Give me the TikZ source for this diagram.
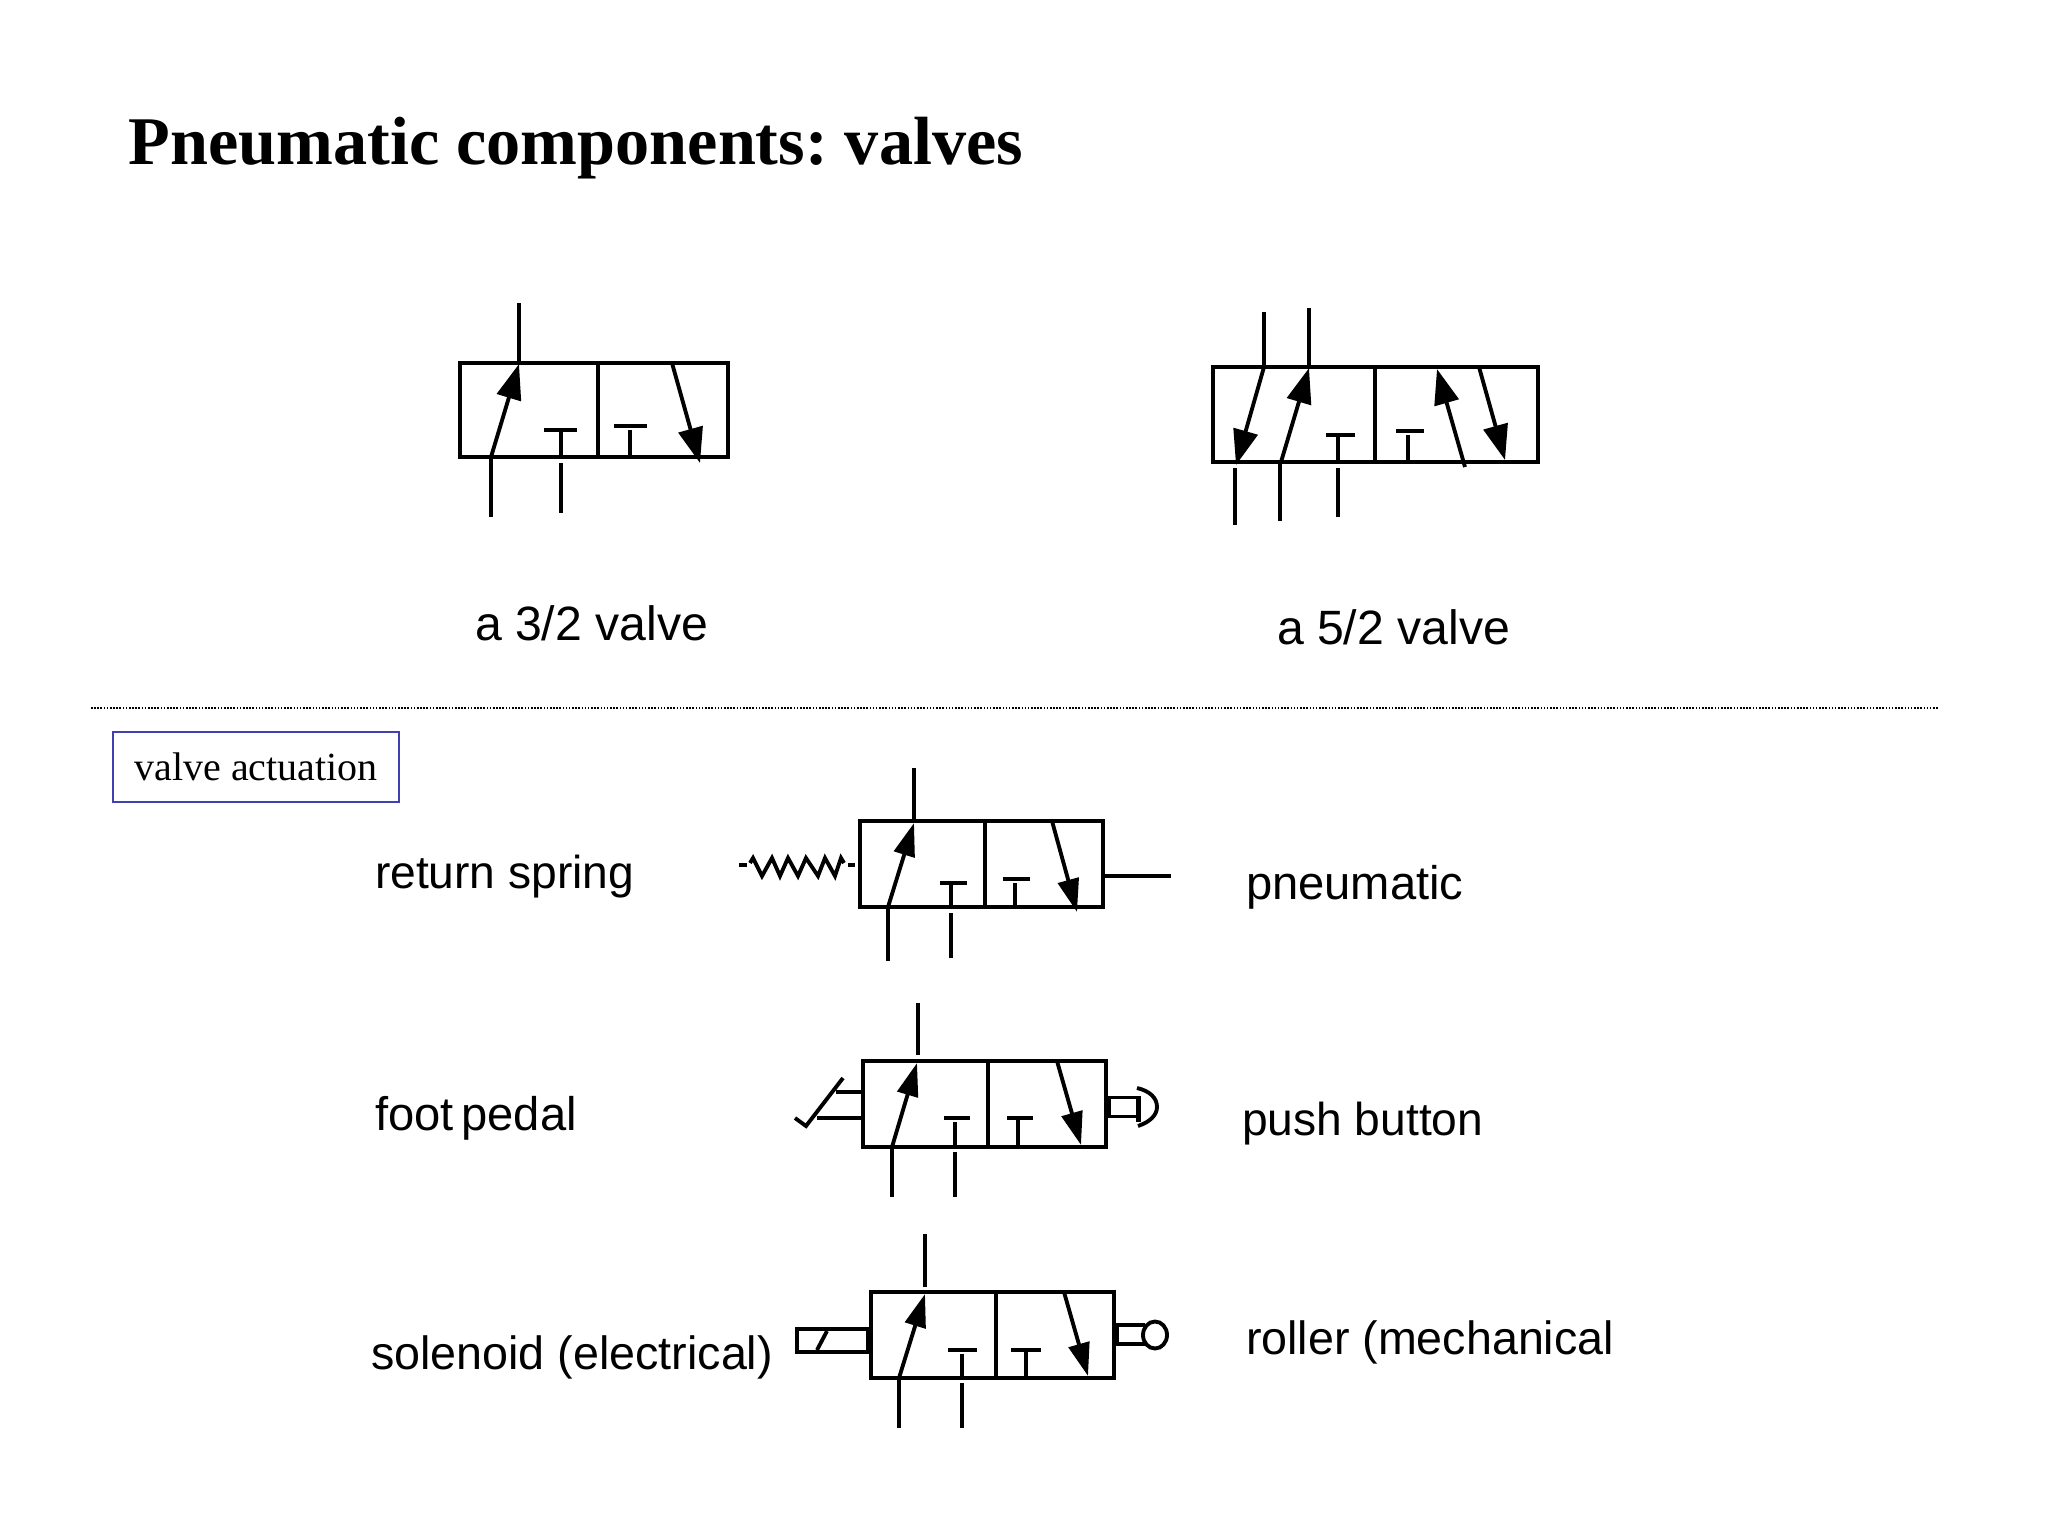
\documentclass[tikz,border=0pt]{standalone}
\usepackage{fontspec}
\setmainfont{Liberation Serif}
\newfontfamily\lsans{Liberation Sans}
\usetikzlibrary{arrows.meta}
\newcommand{\tightwords}{\spaceskip=0.6\fontdimen2\font\relax}
\tikzset{
  x=0.01cm,y=-0.01cm,
  sym/.style={draw=black,line width=1.1pt,line cap=butt},
  bigflow/.style={sym,-{Triangle[length=10pt,width=7pt]}},
  smallflow/.style={sym,-{Triangle[length=9.4pt,width=6pt]}},
  biglabel/.style={anchor=base west,inner sep=0pt,outer sep=0pt,font=\lsans\fontsize{13.7pt}{16pt}\selectfont},
  sidelabel/.style={anchor=base west,inner sep=0pt,outer sep=0pt,font=\lsans\fontsize{#1pt}{16pt}\selectfont},
}
\begin{document}
\begin{tikzpicture}
\useasboundingbox (0,0) rectangle (2048,1536);
\fill[white] (0,0) rectangle (2048,1536);
% heading
\node[anchor=base west,inner sep=0pt,font=\bfseries\fontsize{19.4pt}{22pt}\selectfont\frenchspacing] (title) at (128,164) {Pneumatic components: valves};
% 3/2 valve
\draw[sym] (460,363) rectangle (728,457) (598,363) -- (598,457);
\draw[sym] (519,303) -- (519,363) (491,457) -- (491,517) (561,463) -- (561,513);
\draw[sym] (544,430) -- (577,430) (561,430) -- (561,457) (614,426) -- (647,426) (630,430) -- (630,457);
\draw[bigflow] (491,457) -- (519,364);
\draw[bigflow] (672,363) -- (700,463);
\node[biglabel] (l32) at (475,640) {a 3/2 valve};
% 5/2 valve
\draw[sym] (1213,367) rectangle (1538,462) (1375,367) -- (1375,462);
\draw[sym] (1264,312) -- (1264,367) (1309,308) -- (1309,367) (1235,468) -- (1235,525) (1280,462) -- (1280,521) (1338,468) -- (1338,517);
\draw[sym] (1326,435) -- (1355,435) (1338,435) -- (1338,462) (1396,431) -- (1424,431) (1408,435) -- (1408,462);
\draw[bigflow] (1264,367) -- (1236,465);
\draw[bigflow] (1281,462) -- (1309,368);
\draw[bigflow] (1465,467) -- (1437,369);
\draw[bigflow] (1479,367) -- (1505,460);
\node[biglabel] (l52) at (1277,644) {a 5/2 valve};
% separator
\draw[line width=0.3pt,dash pattern=on 0.45pt off 0.45pt] (91,708) -- (1938,708);
\node[draw={rgb,255:red,64;green,64;blue,176},line width=0.45pt,minimum width=286*0.2845pt,minimum height=70*0.2845pt,inner sep=0pt,font=\fontsize{11.37pt}{13pt}\selectfont] (act) at (256,767) {valve actuation};
% return spring / pneumatic
\draw[sym] (860,821) rectangle (1103,907) (985,821) -- (985,907);
\draw[sym] (914,768) -- (914,821) (888,907) -- (888,961) (951,913) -- (951,958);
\draw[sym] (940,883) -- (967,883) (951,883) -- (951,907) (1003,879) -- (1030,879) (1015,883) -- (1015,907);
\draw[smallflow] (888,907) -- (914,823);
\draw[smallflow] (1052,821) -- (1077,912);
\draw[sym] (1103,876) -- (1171,876);
\draw[sym] (739,865) -- (747,865) (848,865) -- (855,865);
\draw[sym] (750,863) -- (753,858) -- (762,876) -- (772,858) -- (780,876) -- (788,858) -- (798,876) -- (806,858) -- (818,876) -- (825,858) -- (835,876) -- (841,858) -- (844,863);
\node[sidelabel=13.13] (lrs) at (375,888) {return spring};
\node[sidelabel=13.4] (lpn) at (1246,899) {pneumatic};
% foot pedal / push button
\draw[sym] (863,1061) rectangle (1106,1147) (988,1061) -- (988,1147);
\draw[sym] (918,1003) -- (918,1055) (892,1147) -- (892,1197) (955,1152) -- (955,1197);
\draw[sym] (944,1118) -- (970,1118) (955,1122) -- (955,1147) (1007,1118) -- (1033,1118) (1018,1118) -- (1018,1147);
\draw[smallflow] (892,1147) -- (917,1063);
\draw[smallflow] (1057,1061) -- (1081,1145);
\draw[sym] (795,1118) -- (806,1126) -- (843,1078) (836,1092) -- (863,1092) (817,1118) -- (863,1118);
\draw[sym] (1106,1097.5) -- (1139,1097.5) (1106,1116.5) -- (1139,1116.5);
\fill (1106,1097) rectangle (1111,1117);
\fill (1136,1096) rectangle (1141,1122);
\draw[sym] (1137,1088) .. controls (1150,1091) and (1157,1098) .. (1157,1107) .. controls (1157,1115) and (1150,1122) .. (1138,1126);
\node[sidelabel=13.4] (lfp) at (375,1130) {\tightwords foot pedal};
\node[sidelabel=13.13] (lpb) at (1242,1135) {push button};
% solenoid / roller
\draw[sym] (871,1292) rectangle (1114,1378) (996,1292) -- (996,1378);
\draw[sym] (925,1234) -- (925,1287) (899,1378) -- (899,1428) (962,1383) -- (962,1428);
\draw[sym] (948,1350) -- (977,1350) (962,1354) -- (962,1378) (1011,1350) -- (1041,1350) (1026,1350) -- (1026,1378);
\draw[smallflow] (899,1378) -- (925,1294);
\draw[smallflow] (1064,1292) -- (1088,1376);
\draw[sym] (797,1329) rectangle (871,1352) (817,1350) -- (827,1331);
\fill (866,1329) rectangle (871,1352);
\draw[sym] (1114,1325) -- (1145,1325) (1114,1344) -- (1145,1344);
\fill (1114,1325) rectangle (1119,1345);
\draw[sym,fill=white] (1155,1335) ellipse (12 and 13.5);
\node[sidelabel=13.27] (lso) at (371,1369) {solenoid (electrical)};
\node[sidelabel=13.26] (lro) at (1246,1354) {roller (mechanical};
\end{tikzpicture}
\end{document}
